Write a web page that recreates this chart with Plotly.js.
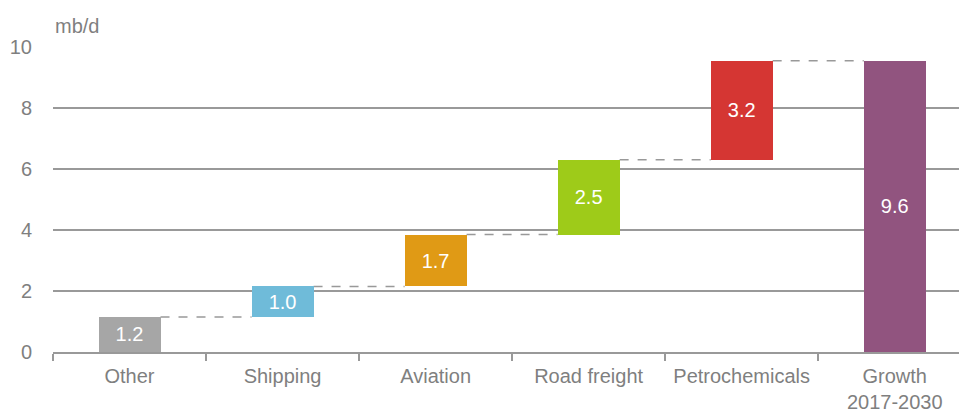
<!DOCTYPE html>
<html>
<head>
<meta charset="utf-8">
<script src="https://cdn.plot.ly/plotly-3.0.1.min.js"></script>
<style>html,body{margin:0;padding:0;background:#fff;}#chart{width:959px;height:412px;}</style>
</head>
<body>
<div id="chart"></div>
<script>
// Data
var categories = ["Other", "Shipping", "Aviation", "Road freight", "Petrochemicals", "Growth<br>2017-2030"];
var increments = [1.15, 1.0, 1.7, 2.45, 3.25];
var valueLabels = ["1.2", "1.0", "1.7", "2.5", "3.2", "9.6"];
var barColors = ["#a6a6a6", "#6fbbd9", "#e09a15", "#9ecb19", "#d53633", "#91547f"];
var yTickVals = [0, 2, 4, 6, 8, 10];
var unitLabel = "mb/d";

// Build waterfall bases
var bases = [], heights = [], cum = 0;
for (var i = 0; i < increments.length; i++) {
  bases.push(cum);
  heights.push(increments[i]);
  cum += increments[i];
}
bases.push(0);
heights.push(cum);

var FONT = '"Liberation Sans Narrow", "Arial Narrow", "Liberation Sans", Arial, sans-serif';
var BARW = 0.405;

var barTrace = {
  type: 'bar',
  x: categories,
  y: heights,
  base: bases,
  width: BARW,
  marker: {color: barColors, line: {width: 0}},
  text: valueLabels,
  textposition: 'inside',
  insidetextanchor: 'middle',
  textangle: 0,
  constraintext: 'none',
  textfont: {color: '#ffffff', size: 20, family: FONT},
  hoverinfo: 'skip',
  showlegend: false
};

// Connector shapes (dashed) between consecutive bars at cumulative level
var shapes = [];
for (var j = 0; j < categories.length - 1; j++) {
  var level = bases[j] + heights[j];
  if (j === categories.length - 2) level = heights[heights.length - 1];
  shapes.push({
    type: 'line', xref: 'x', yref: 'y',
    x0: j + BARW / 2, x1: j + 1 - BARW / 2,
    y0: level, y1: level,
    line: {color: '#999999', width: 1.5, dash: 'dash'},
    layer: 'below'
  });
}

var layout = {
  width: 959, height: 412,
  margin: {l: 53, r: 0, t: 47, b: 60},
  paper_bgcolor: '#ffffff', plot_bgcolor: '#ffffff',
  font: {family: FONT, color: '#7f7f7f', size: 20},
  showlegend: false,
  bargap: 0,
  xaxis: {
    type: 'category',
    range: [-0.5, 5.42],
    tickson: 'boundaries',
    tickangle: 0,
    ticks: 'outside', ticklen: 7, tickwidth: 1.5, tickcolor: '#999999',
    ticklabelstandoff: 5,
    showline: true, linecolor: '#999999', linewidth: 1.5,
    showgrid: false, zeroline: false,
    tickfont: {family: FONT, color: '#7f7f7f', size: 20},
    fixedrange: true
  },
  yaxis: {
    range: [0, 10],
    tickmode: 'array', tickvals: yTickVals,
    ticks: '', ticklabelstandoff: 20,
    showgrid: true, gridcolor: '#999999', gridwidth: 1.5,
    showline: false, zeroline: false,
    tickfont: {family: FONT, color: '#7f7f7f', size: 20},
    fixedrange: true
  },
  shapes: shapes,
  annotations: [{
    text: unitLabel, xref: 'paper', yref: 'paper',
    x: 0, y: 1, xanchor: 'left', yanchor: 'bottom', yshift: 8,
    showarrow: false,
    font: {family: FONT, color: '#7f7f7f', size: 20}
  }]
};

Plotly.newPlot('chart', [barTrace], layout, {displayModeBar: false, staticPlot: true});
</script>
</body>
</html>
